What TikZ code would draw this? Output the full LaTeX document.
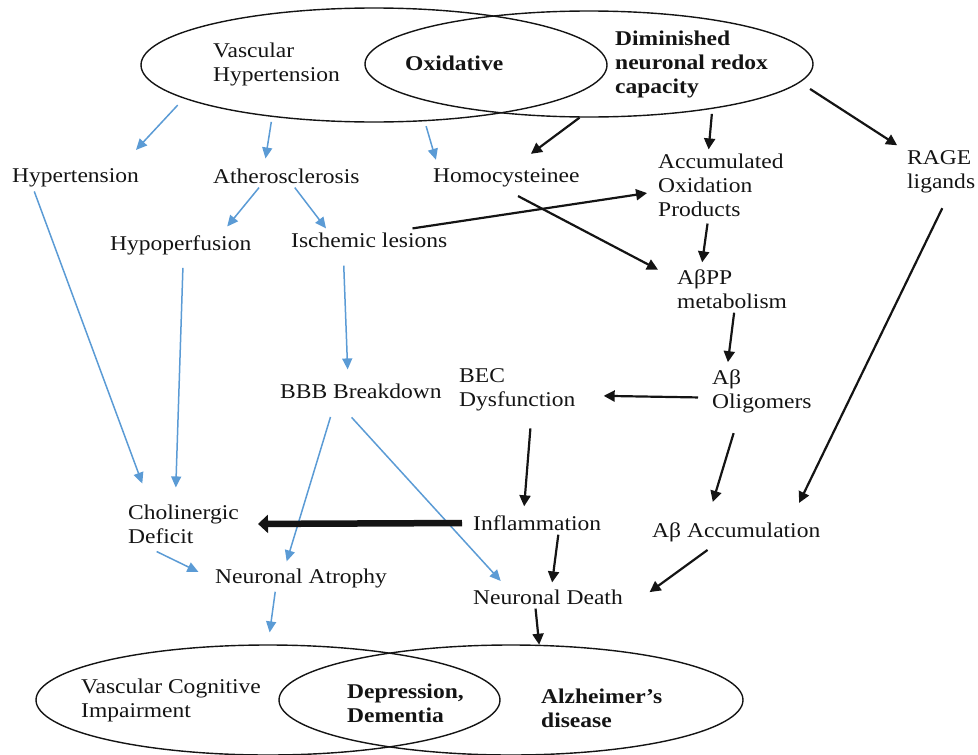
\documentclass[tikz,border=0pt]{standalone}
\usepackage{fontspec}
\setmainfont{Liberation Serif}[FakeStretch=1.12]
\usetikzlibrary{arrows.meta,shapes.geometric}
\definecolor{azulvaso}{HTML}{5B9BD5}
\definecolor{negro}{HTML}{141414}

\begin{document}
\begin{tikzpicture}[x=1pt, y=-1pt,
    txt/.style={anchor=west, align=left, inner sep=4pt, text=negro,
      font=\fontsize{21}{24}\selectfont},
    txtb/.style={txt, font=\fontsize{21}{24}\selectfont\bfseries},
    venn/.style={ellipse, draw=negro, line width=1.4pt, inner sep=0pt},
    vaso/.style={azulvaso, line width=1.5pt, -{Triangle[length=11pt,width=10pt]}},
    redox/.style={negro, line width=2.2pt, -{Triangle[length=11pt,width=11pt]}}]
  \useasboundingbox (0,0) rectangle (978,755);

  \node[venn, minimum width=466pt, minimum height=114pt] (vhA) at (374,65) {};
  \node[venn, minimum width=448pt, minimum height=106pt] (dnB) at (589,64) {};
  \node[venn, minimum width=464pt, minimum height=110pt] (vciL) at (268,700) {};
  \node[venn, minimum width=464pt, minimum height=110pt] (adR) at (511,700) {};

  \node[txt] (vh) at (209,64) {Vascular\\Hypertension};
  \node[txtb] (ox) at (401,63) {Oxidative};
  \node[txtb] (dn) at (611,64) {Diminished\\neuronal redox\\capacity};
  \node[txt] (hyp) at (8,178) {Hypertension};
  \node[txt] (ath) at (209,176) {Atherosclerosis};
  \node[txt] (hcy) at (429,178) {Homocysteinee};
  \node[txt] (aop) at (654,185) {Accumulated\\Oxidation\\Products};
  \node[txt] (rage) at (903,172) {RAGE\\ligands};
  \node[txt] (hypo) at (106,245) {Hypoperfusion};
  \node[txt] (isl) at (287,240) {Ischemic lesions};
  \node[txt] (abpp) at (673,289) {AβPP\\metabolism};
  \node[txt] (bbb) at (276,391) {BBB Breakdown};
  \node[txt] (bec) at (455,390) {BEC\\Dysfunction};
  \node[txt] (abo) at (708,391) {Aβ\\Oligomers};
  \node[txt] (chol) at (124,524) {Cholinergic\\Deficit};
  \node[txt] (infl) at (469,523) {Inflammation};
  \node[txt] (abacc) at (648,532) {Aβ Accumulation};
  \node[txt] (natr) at (211,578) {Neuronal Atrophy};
  \node[txt] (ndeath) at (469,597) {Neuronal Death};
  \node[txt] (vci) at (77,700) {Vascular Cognitive\\Impairment};
  \node[txtb] (dd) at (343,703) {Depression,\\Dementia};
  \node[txtb] (ad) at (537,708) {Alzheimer’s\\disease};

  \foreach \a/\b/\s/\e in {vhA.190/hyp.16/9/20, vhA.207/ath.152/5/6,
      vhA.312/hcy.169/5/5, ath.203/hypo.18/0/6, ath.306/isl.165/0/0,
      hyp.198/chol.146/0/18, hypo.280/chol.109/9/13, isl.204/bbb.138/14/10,
      bbb.204/natr.138/15/3, bbb.207/ndeath.165/20/6, chol.214/natr.west/9/14,
      natr.208/vciL.90/0/12}
    \draw[vaso, shorten <=\s pt, shorten >=\e pt] (\a) -- (\b);

  \foreach \a/\b/\s/\e in {dnB.260/hcy.53/0/18, dnB.340/aop.109/5/0,
      dnB.355/rage.149/12/7, isl.15/aop.186/0/7, hcy.282/abpp.169/10/17,
      aop.250/abpp.142/3/3, abpp.275/abo.143/0/3, abo.187/bec.355/10/24,
      rage.284/abacc.14/12/17, abo.228/abacc.154/17/17, bec.299/infl.139/13/5,
      infl.331/ndeath.72/0/3, abacc.211/ndeath.south east/7/28, ndeath.223/adR.63/0/0}
    \draw[redox, shorten <=\s pt, shorten >=\e pt] (\a) -- (\b);

  \draw[redox, line width=6.5pt, -{Triangle[length=10pt,width=18pt]},
    shorten <=7pt, shorten >=15pt] (infl.west) -- (chol.east);
\end{tikzpicture}
\end{document}
